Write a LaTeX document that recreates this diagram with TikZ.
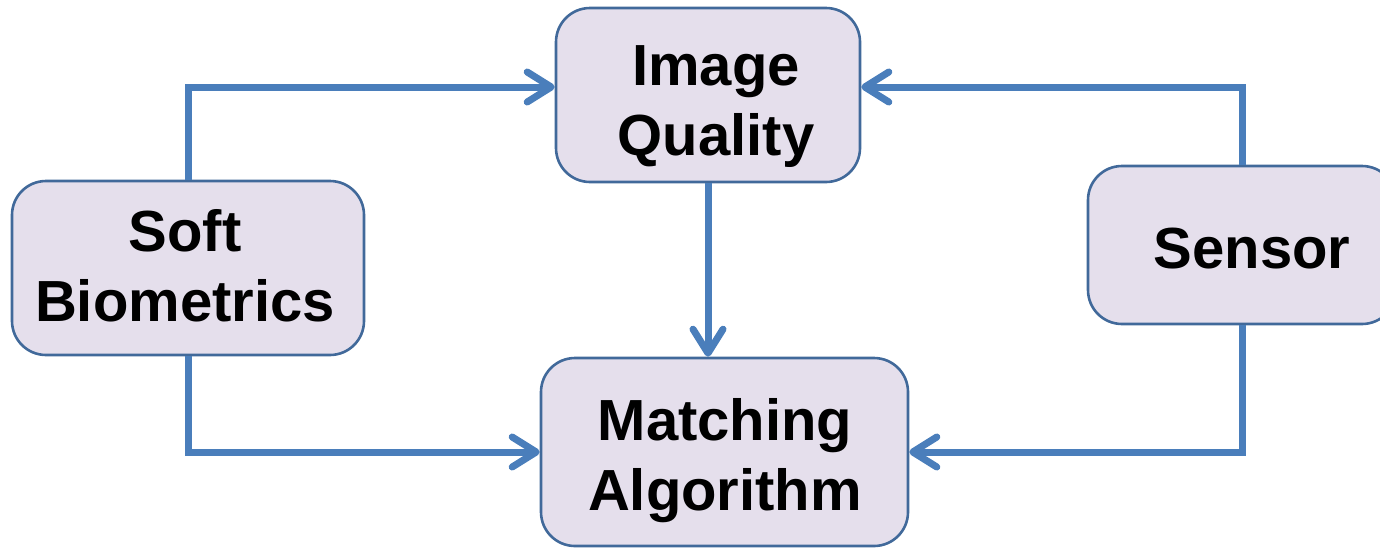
\documentclass[tikz,border=0pt]{standalone}
\usepackage{fontspec}
\setmainfont{Liberation Sans}
\usetikzlibrary{arrows.meta}
\definecolor{boxfill}{HTML}{E5DFEC}
\definecolor{boxline}{HTML}{41699A}
\definecolor{flow}{HTML}{4A7EBB}
\tikzset{
  block/.style={draw=boxline, line width=1.3pt, fill=boxfill, rounded corners=17pt,
    align=center, font=\fontsize{29}{35}\selectfont\bfseries, inner sep=0pt},
  flowarrow/.style={draw=flow, line width=3.5pt,
    -{Straight Barb[length=12pt, width=15pt, line cap=round, line join=round]}}
}
\begin{document}
\begin{tikzpicture}[x=0.5pt, y=-0.5pt]
\useasboundingbox (0,0) rectangle (1380,547);
% boxes
\node[block, minimum width=152pt, minimum height=87pt] (iq) at (708,95) {};
\node[block, minimum width=176pt, minimum height=87pt] (sb) at (188,268) {};
\node[block, minimum width=154pt, minimum height=79pt] (sn) at (1242,245) {};
\node[block, minimum width=183.5pt, minimum height=94pt] (ma) at (724.5,452) {};
% labels
\node[block, draw=none, fill=none] at (716,107) {Image\\Quality};
\node[block, draw=none, fill=none] at (185,266) {Soft\\Biometrics};
\node[block, draw=none, fill=none] at (1252,249) {Sensor};
\node[block, draw=none, fill=none] at (725,461) {Matching\\Algorithm};
% connectors
\coordinate (upper) at (0,87);
\draw[flowarrow] (sb.north) |- (iq.west |- upper);
\draw[flowarrow] (sn.north) |- (iq.east |- upper);
\draw[flowarrow] (sb.south) |- (ma.west);
\draw[flowarrow] (sn.south) |- (ma.east);
\draw[flowarrow] (iq.south) -- (iq.south |- ma.north);
\end{tikzpicture}
\end{document}
